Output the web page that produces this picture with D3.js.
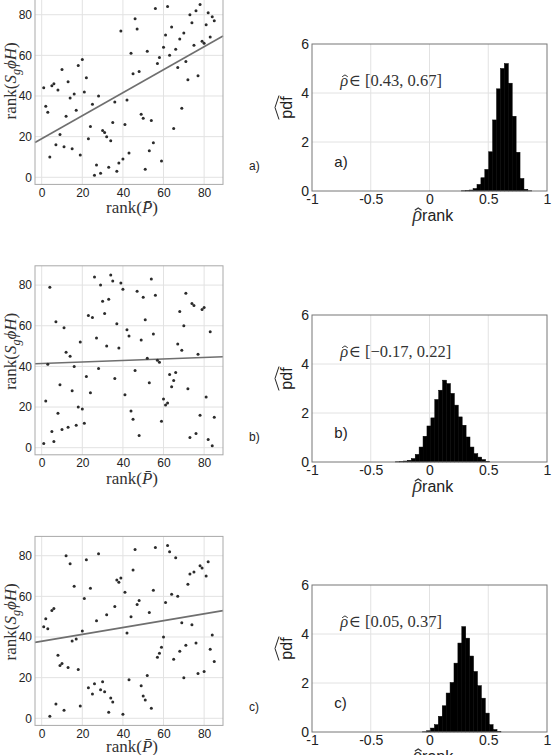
<!DOCTYPE html>
<html>
<head>
<meta charset="utf-8">
<script src="https://cdn.jsdelivr.net/npm/d3@7"></script>
<style>
  body { margin: 0; background: #fff; }
  svg { display: block; }
  .tick text { font-family: 'Liberation Sans', Arial, sans-serif; fill: #222; }
  .serif { font-family: 'Liberation Serif', 'DejaVu Serif', serif; fill: #333; }
  .sans { font-family: 'Liberation Sans', Arial, sans-serif; fill: #222; }
</style>
</head>
<body>
<div id="chart"></div>
<script>
// rank of P (same for all three panels)
const rankP = [1, 2, 3, 4, 5, 6, 7, 8, 9, 10, 11, 12, 13, 14, 15, 16, 17, 18, 19, 20,
  21, 22, 23, 24, 25, 26, 27, 28, 29, 30, 31, 32, 33, 34, 35, 36, 37, 38, 39, 40,
  41, 42, 43, 44, 45, 46, 47, 48, 49, 50, 51, 52, 53, 54, 55, 56, 57, 58, 59, 60,
  61, 62, 63, 64, 65, 66, 67, 68, 69, 70, 71, 72, 73, 74, 75, 76, 77, 78, 79, 80,
  81, 82, 83, 84, 85];

// rank(S_g phi H) for panels a, b, c
const rankA = [44, 35, 32, 10, 45, 46, 16, 43, 21, 53, 15, 30, 47, 39, 14, 41, 33, 55, 11, 58,
  42, 49, 19, 25, 36, 1, 6, 40, 2, 23, 22, 20, 5, 18, 27, 37, 3, 7, 72, 9,
  26, 38, 12, 61, 51, 78, 73, 52, 31, 29, 4, 62, 13, 28, 17, 83, 56, 59, 8, 64,
  70, 84, 60, 74, 24, 63, 54, 68, 34, 71, 57, 48, 80, 76, 65, 82, 50, 85, 67, 66,
  75, 81, 69, 79, 77];
const rankB = [2, 23, 41, 79, 8, 3, 62, 17, 31, 9, 59, 47, 10, 45, 28, 40, 11, 20, 52, 19,
  12, 35, 65, 27, 64, 84, 54, 39, 80, 72, 66, 50, 73, 85, 82, 34, 61, 49, 81, 78,
  26, 58, 55, 18, 14, 38, 77, 6, 53, 74, 63, 44, 32, 83, 56, 75, 43, 42, 13, 24,
  21, 22, 36, 30, 33, 37, 51, 67, 48, 60, 76, 29, 5, 71, 70, 7, 46, 16, 68, 69,
  25, 4, 57, 1, 15];
const rankC = [45, 49, 44, 1, 53, 54, 7, 31, 26, 27, 4, 80, 25, 76, 38, 65, 39, 24, 6, 43,
  59, 78, 15, 64, 12, 17, 48, 81, 14, 18, 13, 51, 3, 10, 8, 55, 68, 67, 69, 2,
  62, 42, 19, 50, 73, 83, 56, 58, 16, 11, 9, 21, 52, 5, 63, 84, 30, 32, 35, 40,
  57, 85, 82, 61, 29, 79, 60, 33, 47, 20, 36, 66, 71, 46, 72, 37, 22, 75, 74, 23,
  70, 77, 34, 41, 28];

// fitted lines: [intercept, slope]
const fitA = [19.0, 0.566];
const fitB = [41.4, 0.0374];
const fitC = [37.9, 0.169];

// histograms of rho_rank: left edge of first bin, common bin width, densities
const binWidth = 0.0333;
const binStart = [0.271, -0.288, -0.058];
const pdfA = [0.01, 0.02, 0.04, 0.1, 0.27, 0.54, 0.88, 1.6, 2.9, 4.17, 5.0, 5.2, 4.4, 3.05, 1.58, 0.51, 0.07, 0.01];
const pdfB = [0.01, 0.02, 0.04, 0.07, 0.14, 0.31, 0.61, 1.05, 1.47, 1.8, 2.55, 2.93, 3.34, 3.2, 2.8, 2.32, 1.84, 1.5, 1.02, 0.61, 0.34, 0.2, 0.1, 0.03];
const pdfC = [0.01, 0.05, 0.16, 0.3, 0.64, 1.07, 1.59, 2.02, 2.81, 3.63, 4.3, 3.83, 3.1, 2.47, 1.89, 1.38, 0.77, 0.3, 0.1, 0.03];

const rhoIntervals = ['[0.43, 0.67]', '[\u22120.17, 0.22]', '[0.05, 0.37]'];
const panelTags = ['a)', 'b)', 'c)'];

const rankTicks = [0, 20, 40, 60, 80];
const pdfTicks = [0, 2, 4, 6];
const rhoTicks = [-1, -0.5, 0, 0.5, 1];

const width = 555;
const height = 755;

const svg = d3.select('#chart').append('svg')
    .attr('width', width)
    .attr('height', height);

const rowTops = [
  { scatter: -4.6, hist: 44 },
  { scatter: 265.8, hist: 315 },
  { scatter: 536.4, hist: 585 },
];

const sc = { left: 35, right: 223, h: 189 };
const hc = { left: 312, right: 547, h: 147 };

const panels = [
  { ys: rankA, fit: fitA, pdf: pdfA },
  { ys: rankB, fit: fitB, pdf: pdfB },
  { ys: rankC, fit: fitC, pdf: pdfC },
];

// italic rho with a hat drawn above it; returns its advance width
function rhoHat(parent, x, y, size) {
  const t = parent.append('text')
      .attr('class', 'serif')
      .attr('x', x).attr('y', y)
      .style('font-size', `${size}px`)
      .style('font-style', 'italic')
      .text('\u03c1');
  const w = t.node().getComputedTextLength();
  const cx = x + w * 0.6;
  const hy = y - size * 0.62;
  const hw = size * 0.17;
  parent.append('path')
      .attr('d', `M${cx - hw},${hy + size * 0.08} L${cx},${hy - size * 0.03} L${cx + hw},${hy + size * 0.08}`)
      .attr('fill', 'none')
      .attr('stroke', '#333')
      .attr('stroke-width', size * 0.06);
  return w;
}

function drawScatter(top, ys, fit) {
  const g = svg.append('g');
  const x = d3.scaleLinear().domain([-3.3, 89.3]).range([sc.left, sc.right]);
  const y = d3.scaleLinear().domain([-3.5, 89.5]).range([top + sc.h, top]);

  g.append('g').selectAll('line')
      .data(rankTicks)
    .enter().append('line')
      .attr('x1', (d) => x(d)).attr('x2', (d) => x(d))
      .attr('y1', top).attr('y2', top + sc.h)
      .attr('stroke', '#e2e2e2');
  g.append('g').selectAll('line')
      .data(rankTicks)
    .enter().append('line')
      .attr('x1', sc.left).attr('x2', sc.right)
      .attr('y1', (d) => y(d)).attr('y2', (d) => y(d))
      .attr('stroke', '#e2e2e2');

  const xAxis = d3.axisBottom(x).tickValues(rankTicks).tickSize(0).tickPadding(4);
  const yAxis = d3.axisLeft(y).tickValues(rankTicks).tickSize(0).tickPadding(3);

  g.append('g')
      .attr('transform', `translate(0, ${top + sc.h})`)
      .call(xAxis)
      .call((a) => a.select('.domain').remove())
      .selectAll('text').style('font-size', '12px');
  g.append('g')
      .attr('transform', `translate(${sc.left}, 0)`)
      .call(yAxis)
      .call((a) => a.select('.domain').remove())
      .selectAll('text').style('font-size', '12px');

  // fitted line
  const [x0, x1] = x.domain();
  g.append('line')
      .attr('x1', x(x0)).attr('y1', y(fit[0] + fit[1] * x0))
      .attr('x2', x(x1)).attr('y2', y(fit[0] + fit[1] * x1))
      .attr('stroke', '#6f6f6f')
      .attr('stroke-width', 1.6);

  g.append('g').selectAll('circle')
      .data(rankP.map((p, i) => ({ p, s: ys[i] })))
    .enter().append('circle')
      .attr('cx', (d) => x(d.p))
      .attr('cy', (d) => y(d.s))
      .attr('r', 1.5)
      .attr('fill', '#2b2b2b');

  g.append('rect')
      .attr('x', sc.left).attr('y', top)
      .attr('width', sc.right - sc.left).attr('height', sc.h)
      .attr('fill', 'none')
      .attr('stroke', '#a9a9a9');

  // x label: rank(P-bar)
  const xl = g.append('text')
      .attr('class', 'serif')
      .attr('x', 132)
      .attr('y', Math.min(top + sc.h + 29, 752))
      .attr('text-anchor', 'middle')
      .style('font-size', '17px');
  xl.append('tspan').text('rank(');
  xl.append('tspan').style('font-style', 'italic').text('P\u0304');
  xl.append('tspan').text(')');

  // y label: rank(S_g phi H)
  const yl = g.append('text')
      .attr('class', 'serif')
      .attr('transform', `translate(16, ${top + sc.h / 2 - 9}) rotate(-90)`)
      .attr('text-anchor', 'middle')
      .style('font-size', '17px');
  yl.append('tspan').text('rank(');
  yl.append('tspan').style('font-style', 'italic').text('S');
  yl.append('tspan').style('font-style', 'italic').style('font-size', '12px').attr('dy', 4).text('g');
  yl.append('tspan').style('font-style', 'italic').attr('dy', -4).text('\u03d5H');
  yl.append('tspan').text(')');
}

function drawHist(top, pdf, start, interval, tag) {
  const g = svg.append('g');
  const x = d3.scaleLinear().domain([-1, 1]).range([hc.left, hc.right]);
  const y = d3.scaleLinear().domain([0, 6]).range([top + hc.h, top]);

  g.append('g').selectAll('line')
      .data(rhoTicks.slice(1, -1))
    .enter().append('line')
      .attr('x1', (d) => x(d)).attr('x2', (d) => x(d))
      .attr('y1', top).attr('y2', top + hc.h)
      .attr('stroke', '#e2e2e2');
  g.append('g').selectAll('line')
      .data(pdfTicks.slice(1, -1))
    .enter().append('line')
      .attr('x1', hc.left).attr('x2', hc.right)
      .attr('y1', (d) => y(d)).attr('y2', (d) => y(d))
      .attr('stroke', '#e2e2e2');

  g.append('g').selectAll('rect')
      .data(pdf.map((v, i) => ({ x0: start + i * binWidth, v })))
    .enter().append('rect')
      .attr('x', (d) => x(d.x0))
      .attr('y', (d) => y(d.v))
      .attr('width', (d) => x(d.x0 + binWidth) - x(d.x0))
      .attr('height', (d) => y(0) - y(d.v))
      .attr('fill', '#000')
      .attr('stroke', '#000')
      .attr('stroke-width', 0.5);

  g.append('rect')
      .attr('x', hc.left).attr('y', top)
      .attr('width', hc.right - hc.left).attr('height', hc.h)
      .attr('fill', 'none')
      .attr('stroke', '#777');

  const xAxis = d3.axisBottom(x).tickValues(rhoTicks).tickSize(0).tickPadding(3)
      .tickFormat((d) => String(d));
  const yAxis = d3.axisLeft(y).tickValues(pdfTicks).tickSize(0).tickPadding(3)
      .tickFormat((d) => String(d));

  g.append('g')
      .attr('transform', `translate(0, ${top + hc.h})`)
      .call(xAxis)
      .call((a) => a.select('.domain').remove())
      .selectAll('text').style('font-size', '14px');
  g.append('g')
      .attr('transform', `translate(${hc.left}, 0)`)
      .call(yAxis)
      .call((a) => a.select('.domain').remove())
      .selectAll('text').style('font-size', '14px');

  // annotation: rho-hat in interval
  const ax = x(-0.76);
  const ay = y(4.3);
  const rw = rhoHat(g, ax, ay, 16.5);
  g.append('text')
      .attr('class', 'serif')
      .attr('x', ax + rw + 0.5)
      .attr('y', ay)
      .style('font-size', '16.5px')
      .text('\u2208 ' + interval);

  g.append('text')
      .attr('class', 'sans')
      .attr('x', x(-0.81))
      .attr('y', y(1.0))
      .style('font-size', '15px')
      .text(tag);

  // x label: rho-hat rank
  const lbY = top + hc.h + 30;
  const rank = g.append('text')
      .attr('class', 'sans')
      .attr('y', lbY)
      .style('font-size', '16px')
      .text('rank');
  const rankW = rank.node().getComputedTextLength();
  const rhoW = 10;
  const lx = 433 - (rhoW + rankW) / 2;
  const rw2 = rhoHat(g, lx, lbY, 20);
  rank.attr('x', lx + rw2);

  // y label: pdf with wide hat
  const yl = g.append('g')
      .attr('transform', `translate(292, ${top + hc.h / 2 - 10}) rotate(-90)`);
  yl.append('text')
      .attr('class', 'sans')
      .attr('text-anchor', 'middle')
      .style('font-size', '16px')
      .text('pdf');
  yl.append('path')
      .attr('d', 'M-12,-13 L0,-17 L12,-13')
      .attr('fill', 'none')
      .attr('stroke', '#222')
      .attr('stroke-width', 1);

  // outer panel tag
  svg.append('text')
      .attr('class', 'sans')
      .attr('x', 249)
      .attr('y', top + hc.h - 21)
      .style('font-size', '12px')
      .text(tag);
}

panels.forEach((p, i) => {
  drawScatter(rowTops[i].scatter, p.ys, p.fit);
  drawHist(rowTops[i].hist, p.pdf, binStart[i], rhoIntervals[i], panelTags[i]);
});
</script>
</body>
</html>
